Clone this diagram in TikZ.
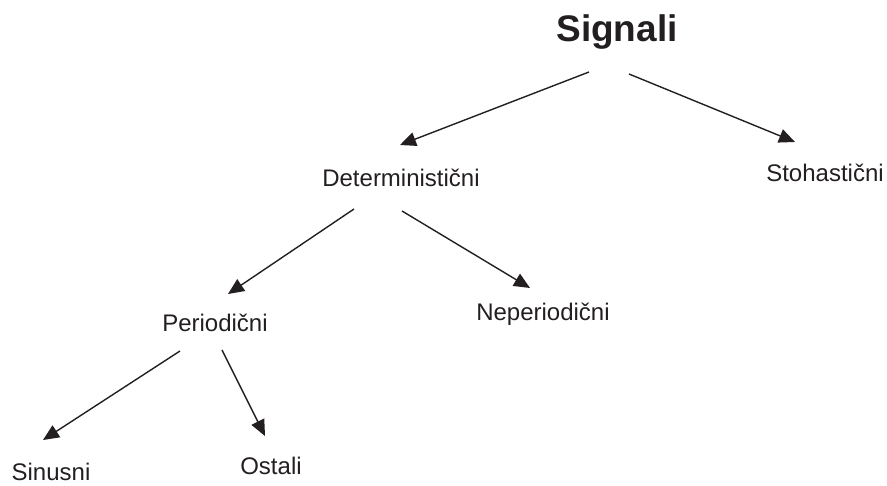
\documentclass[tikz,border=0pt]{standalone}
\usepackage{fontspec}
\setmainfont{Liberation Sans}
\usetikzlibrary{arrows.meta}
\definecolor{ink}{HTML}{231F20}
\tikzset{
  lbl/.style={anchor=base, inner sep=0pt, text=ink, font=\fontsize{24}{27}\selectfont},
  title/.style={anchor=base, inner sep=0pt, text=ink, font=\fontsize{37}{40}\selectfont\bfseries},
  conn/.style={draw=ink, line width=1.4pt, -{Triangle[length=16pt,width=14pt]}}
}
\begin{document}
\begin{tikzpicture}[x=1pt,y=-1pt]
\useasboundingbox (0,0) rectangle (887,486);
\node[title] (sig) at (617,42) {Signali};
\node[lbl] (det) at (401,187) {Deterministični};
\node[lbl] (sto) at (825,182) {Stohastični};
\node[lbl] (nep) at (543,321) {Neperiodični};
\node[lbl] (per) at (215,332) {Periodični};
\node[lbl] (sin) at (51,480) {Sinusni};
\node[lbl] (ost) at (271,475) {Ostali};
\coordinate (s1) at (589,72);  \coordinate (t1) at (400,145);
\coordinate (s2) at (629,74);  \coordinate (t2) at (795,142);
\coordinate (s3) at (354,209); \coordinate (t3) at (228,294);
\coordinate (s4) at (402,211); \coordinate (t4) at (530,288);
\coordinate (s5) at (180,351); \coordinate (t5) at (43,440);
\coordinate (s6) at (222,350); \coordinate (t6) at (265,436);
\draw[conn] (s1) -- (t1);
\draw[conn] (s2) -- (t2);
\draw[conn] (s3) -- (t3);
\draw[conn] (s4) -- (t4);
\draw[conn] (s5) -- (t5);
\draw[conn] (s6) -- (t6);
\end{tikzpicture}
\end{document}
